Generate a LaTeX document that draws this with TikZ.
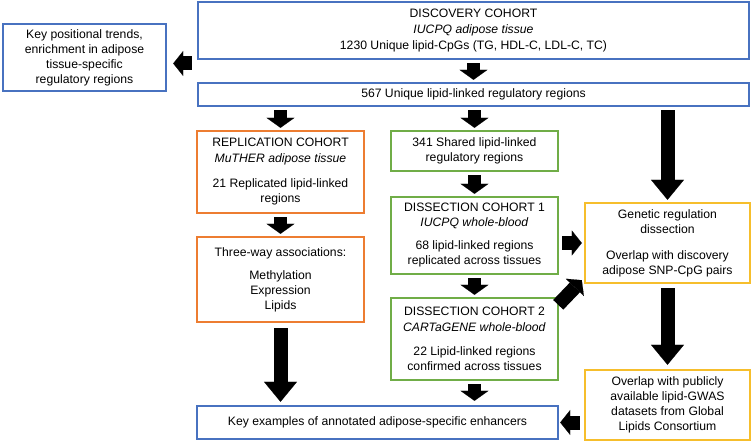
\documentclass[tikz,border=0pt]{standalone}
\usepackage{fontspec}
\setmainfont{Liberation Sans}
\usetikzlibrary{arrows.meta}
\definecolor{cohortblue}{RGB}{72,114,192}
\definecolor{cohortorange}{RGB}{237,125,49}
\definecolor{cohortgreen}{RGB}{112,173,71}
\definecolor{cohortgold}{RGB}{246,190,44}

\begin{document}
\begin{tikzpicture}[x=1pt,y=-1pt,
    box/.style={draw, line width=2.4pt, inner sep=0pt, align=center, font=\fontsize{12.2}{15}\selectfont},
    bluebox/.style={box, draw=cohortblue},
    orangebox/.style={box, draw=cohortorange},
    greenbox/.style={box, draw=cohortgreen},
    goldbox/.style={box, draw=cohortgold},
    downarrow/.style={line width=13pt, -{Triangle[width=28pt,length=10pt,line width=0.1pt]}},
    bigarrow/.style={line width=14pt, -{Triangle[width=33pt,length=20pt,line width=0.1pt]}},
    sidearrow/.style={line width=14pt, -{Triangle[width=25pt,length=10pt,line width=0.1pt]}}]
  \useasboundingbox (0,0) rectangle (752,443);

  % Discovery
  \node[bluebox, minimum width=551pt, minimum height=57pt] (disc) at (473.5,30.5)
    {DISCOVERY COHORT\\[1pt]\textit{IUCPQ adipose tissue}\\[1pt]1230 Unique lipid-CpGs (TG, HDL-C, LDL-C, TC)};
  \node[bluebox, minimum width=163pt, minimum height=67pt] (keypos) at (84.5,57.5)
    {Key positional trends,\\enrichment in adipose\\tissue-specific\\regulatory regions};
  \node[bluebox, minimum width=551pt, minimum height=23pt] (uniq) at (473.5,94.5)
    {567 Unique lipid-linked regulatory regions};

  % Replication
  \node[orangebox, minimum width=167pt, minimum height=82pt] (repl) at (280.5,172)
    {REPLICATION COHORT\\[1pt]\textit{MuTHER adipose tissue}\\[10pt]21 Replicated lipid-linked\\regions};
  \node[orangebox, minimum width=167pt, minimum height=85pt] (three) at (280.5,279.5)
    {Three-way associations:\\[8pt]Methylation\\Expression\\Lipids};

  % Dissection
  \node[greenbox, minimum width=167pt, minimum height=40pt] (shared) at (474.5,151)
    {341 Shared lipid-linked\\regulatory regions};
  \node[greenbox, minimum width=167pt, minimum height=77pt] (dis1) at (474.5,235.5)
    {DISSECTION COHORT 1\\\textit{IUCPQ whole-blood}\\[8pt]68 lipid-linked regions\\replicated across tissues};
  \node[greenbox, minimum width=167pt, minimum height=82pt] (dis2) at (474.5,339)
    {DISSECTION COHORT 2\\[1pt]\textit{CARTaGENE whole-blood}\\[9pt]22 Lipid-linked regions\\confirmed across tissues};

  % Genetics
  \node[goldbox, minimum width=165pt, minimum height=80pt] (genreg) at (667.5,243)
    {Genetic regulation\\dissection\\[11pt]Overlap with discovery\\adipose SNP-CpG pairs};
  \node[goldbox, minimum width=165pt, minimum height=70pt] (gwas) at (667.5,405)
    {Overlap with publicly\\available lipid-GWAS\\datasets from Global\\Lipids Consortium};

  \node[bluebox, minimum width=361pt, minimum height=33pt] (keyex) at (377.5,422.5)
    {Key examples of annotated adipose-specific enhancers};

  % Arrows
  \coordinate (keytip) at ([yshift=-6pt]keypos.east);
  \coordinate (disctail) at (keytip -| disc.west);
  \draw[sidearrow, shorten <=5pt, shorten >=6pt] (disctail) -- (keytip);
  \draw[downarrow, shorten <=3pt, shorten >=2pt] (disc.south) -- (uniq.north);
  \draw[downarrow, shorten <=3pt, shorten >=2pt] (uniq.south -| repl.north) -- (repl.north);
  \draw[downarrow, shorten <=3pt, shorten >=2pt] (uniq.south -| shared.north) -- (shared.north);
  \draw[bigarrow, shorten <=3pt, shorten >=2pt] (uniq.south -| genreg.north) -- (genreg.north);
  \draw[downarrow, shorten <=3pt, shorten >=2pt] (repl.south) -- (three.north);
  \draw[downarrow, shorten <=3pt, shorten >=2pt] (shared.south) -- (dis1.north);
  \draw[downarrow, shorten <=3pt, shorten >=2pt] (dis1.south) -- (dis2.north);
  \draw[bigarrow, shorten <=5pt, shorten >=3pt] (three.south) -- (three.south |- keyex.north);
  \draw[downarrow, shorten <=3pt, shorten >=4pt] (dis2.south) -- (dis2.south |- keyex.north);
  \draw[bigarrow, shorten <=4pt, shorten >=4pt] (genreg.south) -- (gwas.north);
  \draw[sidearrow, shorten <=3pt, shorten >=2pt] (dis1.east |- genreg.west) -- (genreg.west);
  \draw[sidearrow] ([xshift=-1pt,yshift=-8pt]dis2.north east) -- ([xshift=-2pt,yshift=4pt]genreg.south west);
  \draw[sidearrow, shorten <=4pt, shorten >=1pt] (gwas.west |- keyex.east) -- (keyex.east);
\end{tikzpicture}
\end{document}
